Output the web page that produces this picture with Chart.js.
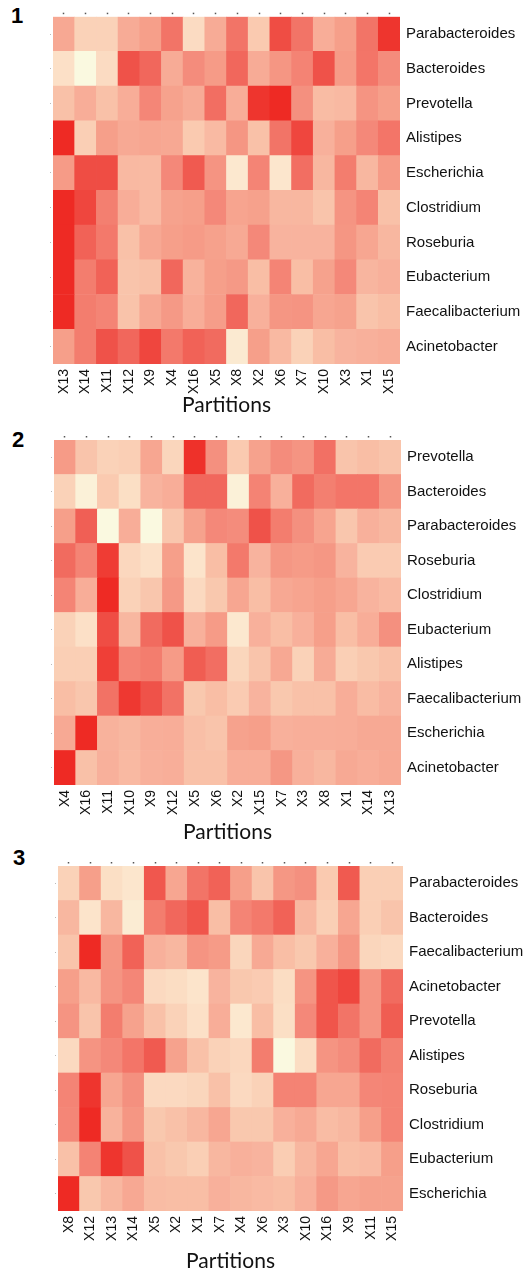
<!DOCTYPE html>
<html>
<head>
<meta charset="utf-8">
<script src="https://cdn.jsdelivr.net/npm/chart.js@4.4.0/dist/chart.umd.min.js"></script>
<style>
  html, body { margin: 0; padding: 0; background: #fff; }
  body { width: 526px; height: 1272px; position: relative; overflow: hidden; }
  .panel { position: absolute; left: 0; width: 526px; }
  .num { position: absolute; font: bold 22px/22px "Liberation Sans", Arial, sans-serif; color: #000; }
</style>
</head>
<body>
<div class="num" style="left:11px;top:5px">1</div>
<div class="num" style="left:12px;top:429px">2</div>
<div class="num" style="left:13px;top:847px">3</div>

<div class="panel" style="top:0;height:425px"><canvas id="heat1"></canvas></div>
<div class="panel" style="top:425px;height:425px"><canvas id="heat2"></canvas></div>
<div class="panel" style="top:850px;height:422px"><canvas id="heat3"></canvas></div>

<script>
// panel 1
const cols1 = ['X13','X14','X11','X12','X9','X4','X16','X5','X8','X2','X6','X7','X10','X3','X1','X15'];
const rows1 = ['Parabacteroides','Bacteroides','Prevotella','Alistipes','Escherichia','Clostridium','Roseburia','Eubacterium','Faecalibacterium','Acinetobacter'];
const vals1 = [
  [4.5, 2, 2, 4.3, 5, 7.3, 1.5, 4.3, 7.3, 2.5, 9, 7.3, 4.2, 5, 7.3, 9.7],
  [1.2, 0, 1.5, 8.8, 8, 4.3, 6, 5.2, 8, 4.3, 5.5, 6.5, 8.8, 5.2, 7.2, 6],
  [3, 4.2, 3, 4.2, 6.3, 4.8, 4.3, 7.6, 4.2, 9.7, 10, 5.8, 3.3, 3.5, 5.6, 5],
  [10, 2.2, 5, 4.4, 4.6, 4.5, 2.5, 3.4, 5.5, 3, 7.3, 9.2, 4, 5, 6.2, 7.2],
  [5.2, 9, 9, 3.5, 3.4, 6.2, 8.5, 5.6, 0.8, 6.4, 0.9, 7.6, 3.6, 6.8, 3.6, 5.2],
  [10, 9.2, 6.7, 4.2, 3.4, 4.8, 5, 6.2, 4.7, 4.9, 3.6, 3.6, 2.8, 5.6, 6.4, 3],
  [10, 8.2, 7, 3, 4.5, 5, 5.2, 4.9, 4.4, 6.2, 3.8, 3.8, 3.8, 5.5, 4.6, 3.6],
  [10, 6.8, 8.2, 2.8, 3, 8, 3.9, 5, 5.3, 3.2, 6.4, 3.2, 4.8, 6.2, 3.7, 4],
  [10, 6.8, 6.4, 2.9, 4.5, 5.3, 4.2, 5.1, 8, 4, 5.5, 5.6, 4.6, 4.8, 2.8, 3.2],
  [5, 6.8, 8.8, 8, 9.2, 7, 8.2, 7.8, 0.7, 5, 3.5, 2, 3.2, 3.8, 4, 4.2]
];

// panel 2
const cols2 = ['X4','X16','X11','X10','X9','X12','X5','X6','X2','X15','X7','X3','X8','X1','X14','X13'];
const rows2 = ['Prevotella','Bacteroides','Parabacteroides','Roseburia','Clostridium','Eubacterium','Alistipes','Faecalibacterium','Escherichia','Acinetobacter'];
const vals2 = [
  [5.2, 2.8, 2, 2.2, 4.6, 1.8, 9.8, 5.8, 2.5, 4.8, 6, 5.6, 7.5, 2.8, 3.2, 2.8],
  [2, 0.4, 2.5, 1.3, 3.8, 4.2, 8, 8, 0.4, 6.5, 4, 7.8, 6.7, 7.2, 7.2, 5.5],
  [5, 8.3, 0, 4.2, 0, 2.7, 4.8, 6.2, 6, 8.8, 6.8, 5.8, 4.7, 2.7, 4, 3.6],
  [7.8, 6.4, 9.5, 1.7, 1.2, 5, 1, 3.2, 7, 3.8, 5.4, 5.2, 5.4, 3.8, 2.4, 2.4],
  [6.4, 4.2, 10, 2, 2.7, 5.3, 1.6, 2.6, 4.6, 3.2, 4.5, 4.7, 5, 4.6, 3.8, 3.4],
  [2, 1.2, 9, 3.6, 7.8, 8.8, 4, 5.2, 0.8, 4, 3.2, 4, 5, 3.2, 4.2, 5.8],
  [2.2, 2.2, 9.4, 6.4, 6.8, 5.2, 8.4, 7.6, 1.8, 2.8, 4.5, 2, 4.3, 2.2, 2.6, 3],
  [3.2, 2.7, 7.4, 9.6, 8.8, 7.4, 2.6, 3.2, 2.4, 3.8, 2.6, 3, 3, 4.2, 3.3, 3.8],
  [4.4, 10, 3.9, 3.6, 4.1, 4.2, 3.1, 2.8, 4.8, 5, 4, 4.1, 4.1, 4.2, 4.4, 4.4],
  [10, 3, 4, 3.5, 4, 4.1, 3, 3, 4.2, 4.2, 5.4, 4, 3.6, 4.4, 4.2, 4.4]
];

// panel 3
const cols3 = ['X8','X12','X13','X14','X5','X2','X1','X7','X4','X6','X3','X10','X16','X9','X11','X15'];
const rows3 = ['Parabacteroides','Bacteroides','Faecalibacterium','Acinetobacter','Prevotella','Alistipes','Roseburia','Clostridium','Eubacterium','Escherichia'];
const vals3 = [
  [2, 5, 1.3, 0.9, 8.6, 4.6, 7.3, 8.2, 5, 2.8, 5.4, 5.8, 2.5, 8.5, 2.2, 2.2],
  [3.6, 1, 3.6, 0.6, 6.8, 8, 8.7, 3.2, 6.4, 7, 8.2, 3.6, 2.2, 4.6, 2.2, 2.8],
  [2.8, 10, 5.5, 8.2, 4, 3.6, 5.6, 5.2, 1.8, 4.4, 3.2, 2.6, 4, 5.4, 1.8, 1.6],
  [5, 3.5, 5.6, 6.3, 1.6, 1.4, 1, 3.8, 2.6, 2.4, 1.4, 5.6, 8.7, 9.2, 5.6, 7.8],
  [5.6, 2.8, 6.8, 4.8, 3, 2, 1.2, 4.2, 0.8, 3.2, 1.3, 6.2, 8.7, 7.3, 5.6, 8.4],
  [1.6, 5.6, 6.2, 7.2, 8.5, 4.8, 3, 2, 1.7, 6.8, 0, 1.4, 5.6, 6, 7.8, 6.6],
  [6.4, 9.7, 4.6, 5.8, 1.6, 1.6, 1.8, 3, 1.6, 2, 6.5, 6.5, 4.6, 4.6, 6.3, 6.4],
  [6.3, 10, 3.9, 5.5, 2.6, 3, 3.6, 4.6, 2.6, 2.6, 4, 4.4, 3.3, 3.6, 5, 6.4],
  [3, 6.5, 9.7, 8.8, 3, 2.6, 2.2, 3.6, 4, 3.8, 2.3, 3.6, 4.6, 3.2, 3.4, 5],
  [10, 2.6, 3.6, 4.5, 3.3, 3.2, 3.2, 4, 3.6, 3.4, 3.2, 4, 5.3, 4.6, 4.8, 4.8]
];

// colour ramp, low (cream) -> high (red)
const ramp = ['#faf9e0','#fce4cb','#fad2b8','#f9c1a8','#f8b09b','#f69f8a','#f48c7c','#f3796b','#f1675c','#ef4d44','#ee2a24'];

function hexToRgb(h) {
  return [parseInt(h.substr(1,2),16), parseInt(h.substr(3,2),16), parseInt(h.substr(5,2),16)];
}

function colorFor(v) {
  var t = Math.max(0, Math.min(10, v)) / 10 * (ramp.length - 1);
  var i = Math.min(Math.floor(t), ramp.length - 2);
  var f = t - i;
  var a = hexToRgb(ramp[i]), b = hexToRgb(ramp[i + 1]);
  var c = a.map(function(x, k) { return Math.round(x + (b[k] - x) * f); });
  return 'rgb(' + c.join(',') + ')';
}

const labelFont = '"Liberation Sans", Arial, Helvetica, sans-serif';

function drawPanel(id, cols, rows, vals, g) {
  var n = rows.length;
  var datasets = [];
  // stacked bars: first dataset sits at the bottom, so walk the rows upward
  for (var j = 0; j < n; j++) {
    var r = n - 1 - j;
    datasets.push({
      label: rows[r],
      data: cols.map(function() { return 1; }),
      backgroundColor: vals[r].map(colorFor),
      borderWidth: 0,
      barPercentage: 1,
      categoryPercentage: 1
    });
  }

  return new Chart(document.getElementById(id), {
    type: 'bar',
    data: { labels: cols, datasets: datasets },
    options: {
      responsive: true,
      maintainAspectRatio: false,
      animation: false,
      events: [],
      layout: { padding: { top: g.padTop, left: 0, right: 0, bottom: 0 } },
      plugins: { legend: { display: false }, tooltip: { enabled: false } },
      scales: {
        x: {
          stacked: true,
          offset: true,
          grid: { display: false, drawTicks: false },
          border: { display: false },
          ticks: {
            autoSkip: false, maxRotation: 90, minRotation: 90, padding: 5,
            color: '#111', font: { family: labelFont, size: 14 }
          },
          title: {
            display: true, text: 'Partitions', color: '#111',
            font: { family: 'Lato, "Open Sans", sans-serif', size: 21, lineHeight: 1 },
            padding: { top: 0, bottom: g.titlePad }
          },
          afterFit: function(s) { s.height = g.xHeight; }
        },
        xTop: {
          type: 'category', labels: cols, position: 'top', offset: true,
          grid: {
            display: true, offset: false, drawOnChartArea: false, drawTicks: true,
            tickLength: 4, tickColor: '#555', tickWidth: 1.5, tickBorderDash: [1.5, 10]
          },
          border: { display: false },
          ticks: { display: false },
          afterFit: function(s) { s.height = 4; }
        },
        y: { stacked: true, display: false, min: 0, max: n },
        yLeft: {
          type: 'category', labels: rows, position: 'left', offset: true,
          grid: {
            display: true, offset: false, drawOnChartArea: false, drawTicks: true,
            tickLength: 3, tickColor: '#bbb', tickWidth: 1, tickBorderDash: [1, 10]
          },
          border: { display: false },
          ticks: { display: false },
          afterFit: function(s) { s.width = g.left; }
        },
        yRight: {
          type: 'category', labels: rows, position: 'right', offset: true,
          grid: { display: false, drawTicks: false },
          border: { display: false },
          ticks: { autoSkip: false, padding: 6, color: '#111', font: { family: labelFont, size: 15 } },
          afterFit: function(s) { s.width = 526 - g.right; }
        }
      }
    }
  });
}

drawPanel('heat1', cols1, rows1, vals1, { padTop: 12.7, xHeight: 61, titlePad: 9.2, left: 53, right: 400 });
drawPanel('heat2', cols2, rows2, vals2, { padTop: 10, xHeight: 65, titlePad: 7, left: 54, right: 401 });
drawPanel('heat3', cols3, rows3, vals3, { padTop: 12, xHeight: 61, titlePad: 0, left: 58, right: 403 });
</script>
</body>
</html>
